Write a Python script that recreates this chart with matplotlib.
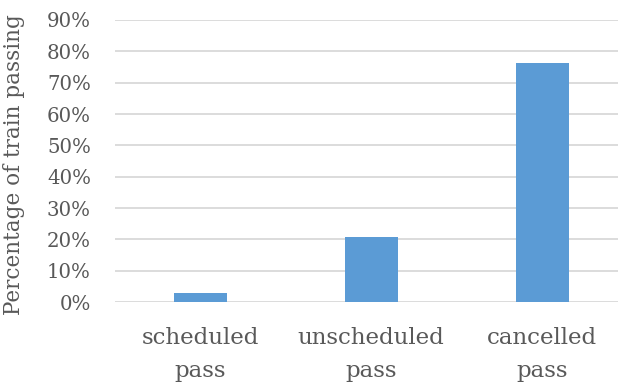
import matplotlib
matplotlib.use("Agg")
import matplotlib.pyplot as plt
from matplotlib.ticker import PercentFormatter

categories = ["scheduled\npass", "unscheduled\npass", "cancelled\npass"]
values = [0.029, 0.208, 0.764]
yticks = [0, 0.1, 0.2, 0.3, 0.4, 0.5, 0.6, 0.7, 0.8, 0.9]

plt.rcParams['font.family'] = ['DejaVu Serif']
text_color = "#595959"

fig = plt.figure(figsize=(6.18, 3.85), dpi=100)
W, H = 618, 385
ax = fig.add_axes([114.5 / W, (H - 302) / H, (618 - 114.5) / W, (302 - 20) / H])

x = list(range(len(categories)))
ax.bar(x, values, width=0.31, color="#5b9bd5", zorder=3)

ax.set_xlim(-0.5, 2.444)
ax.set_ylim(0, 0.9)
ax.set_yticks(yticks)
ax.yaxis.set_major_formatter(PercentFormatter(1.0, decimals=0))
ax.set_xticks(x)
ax.set_xticklabels(categories, linespacing=1.62, fontsize=16.5)

ax.grid(axis="y", color="#d9d9d9", linewidth=1.3, zorder=0)
for s in ax.spines.values():
    s.set_visible(False)
ax.tick_params(axis="both", length=0, colors=text_color)
ax.tick_params(axis="y", pad=17, labelsize=14.2)
ax.tick_params(axis="x", pad=18)

ax.set_ylabel("Percentage of train passing", color=text_color, fontsize=15.5)
ax.yaxis.set_label_coords(-(114.5 - 25) / (618 - 114.5), 0.486)

fig.savefig("out.png", dpi=100)
